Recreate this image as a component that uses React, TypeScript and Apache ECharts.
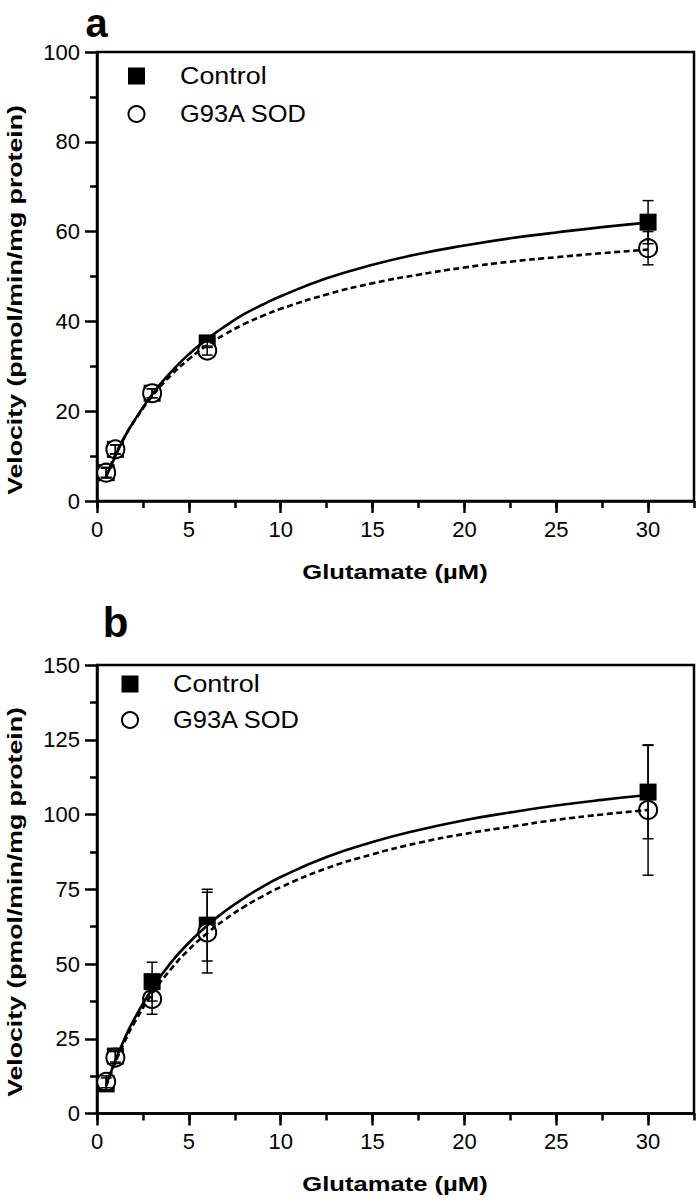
import React, { useEffect, useRef } from "react";
import * as echarts from "echarts";

// Glutamate concentrations (µM) of the measured points
const concentrations = [0.5, 1, 3, 6, 30];

// Panel a
const controlA = [6.3, 11.5, 24.0, 35.2, 62.1];
const controlErrA = [1.0, 1.0, 1.0, 1.0, 4.8];
const sodA = [6.3, 11.5, 24.0, 33.5, 56.3];
const sodErrA = [1.2, 1.0, 1.0, 1.0, 3.7];

// Panel b
const controlB = [9.9, 19.2, 44.1, 63.0, 107.5];
const controlErrB = [2.0, 2.0, 6.5, 12.0, 15.6];
const sodB = [10.6, 18.7, 38.3, 60.5, 101.5];
const sodErrB = [2.0, 2.0, 5.1, 13.5, 21.8];

// Fitted curves
const fitX = [0.5, 1, 1.5, 2, 3, 4, 5, 6, 7, 8, 9, 10, 12.5, 15, 17.5, 20, 22.5, 25, 27.5, 30];
const controlFitA = [5.4, 10.0, 14.2, 17.7, 23.7, 28.6, 32.7, 36.1, 39.0, 41.6, 43.7, 45.6, 49.6, 52.6, 55.0, 56.9, 58.5, 59.8, 61.0, 62.0];
const sodFitA = [5.6, 10.3, 14.3, 17.6, 23.3, 27.9, 31.6, 34.7, 37.2, 39.4, 41.2, 42.8, 46.0, 48.5, 50.4, 52.0, 53.3, 54.3, 55.2, 56.0];
const controlFitB = [9.5, 17.8, 25.0, 31.3, 41.7, 50.3, 57.1, 62.9, 67.8, 72.0, 75.8, 79.1, 85.8, 90.8, 94.8, 98.1, 100.7, 103.0, 104.9, 106.5];
const sodFitB = [9.2, 17.1, 24.0, 30.0, 40.0, 48.1, 54.8, 60.3, 65.0, 69.1, 72.6, 75.7, 82.0, 86.7, 90.5, 93.5, 95.9, 98.2, 100.0, 101.5];

// Axis ticks
const xMajorTicks = [0, 5, 10, 15, 20, 25, 30];
const yTicksA = [0, 20, 40, 60, 80, 100];
const yTicksB = [0, 25, 50, 75, 100, 125, 150];

const legendNames = ["Control", "G93A SOD"];
const xTitle = "Glutamate (\u00b5M)";
const yTitle = "Velocity (pmol/min/mg protein)";

const FONT = '"Liberation Sans", Arial, Helvetica, sans-serif';

const zip = (xs: number[], ys: number[]) => xs.map((x, i) => [x, ys[i]]);
const errData = (xs: number[], ys: number[], es: number[]) =>
  xs.map((x, i) => [x, ys[i] - es[i], ys[i] + es[i]]);

const errorRender = (params: any, api: any) => {
  const x = api.value(0);
  const lo = api.coord([x, api.value(1)]);
  const hi = api.coord([x, api.value(2)]);
  const hw = 5.5;
  const style = { stroke: "#000", lineWidth: 1.5 };
  return {
    type: "group",
    children: [
      { type: "line", shape: { x1: lo[0], y1: lo[1], x2: hi[0], y2: hi[1] }, style },
      { type: "line", shape: { x1: lo[0] - hw, y1: lo[1], x2: lo[0] + hw, y2: lo[1] }, style },
      { type: "line", shape: { x1: hi[0] - hw, y1: hi[1], x2: hi[0] + hw, y2: hi[1] }, style },
    ],
  };
};

export default function App() {
  const ref = useRef<HTMLDivElement>(null);

  useEffect(() => {
    document.body.style.margin = "0";
    if (!ref.current) return;
    const chart = echarts.init(ref.current, null, { renderer: "svg" });

    const axisLine = { show: true, lineStyle: { color: "#000", width: 2.5 } };
    const labelStyle = { color: "#000", fontSize: 22, fontFamily: FONT, margin: 17 };

    const grids = [
      { left: 97, top: 52, width: 597, height: 449 },
      { left: 97, top: 665, width: 597, height: 448.5 },
    ].map((g) => ({ ...g, show: true, borderColor: "#000", borderWidth: 2.5, backgroundColor: "transparent" }));

    const xAxes: any[] = [];
    [0, 1].forEach((gi) => {
      xAxes.push({
        type: "value",
        gridIndex: gi,
        position: "bottom",
        min: 0,
        max: 32.5,
        interval: 5,
        axisLine,
        axisTick: { show: true, length: 12, inside: false, customValues: xMajorTicks, lineStyle: { color: "#000", width: 2.5 } },
        axisLabel: { ...labelStyle, customValues: xMajorTicks },
        splitLine: { show: false },
      });
      xAxes.push({
        type: "value",
        gridIndex: gi,
        position: "bottom",
        min: 0,
        max: 32.5,
        interval: 2.5,
        axisLine: { show: false },
        axisTick: { show: true, length: 7, inside: false, lineStyle: { color: "#000", width: 2.5 } },
        axisLabel: { show: false },
        splitLine: { show: false },
      });
    });

    const yAxes = [
      { ticks: yTicksA, grid: 0 },
      { ticks: yTicksB, grid: 1 },
    ].map(({ ticks, grid }) => ({
      type: "value",
      gridIndex: grid,
      min: ticks[0],
      max: ticks[ticks.length - 1],
      interval: ticks[1] - ticks[0],
      axisLine,
      axisTick: { show: true, length: 12, inside: false, lineStyle: { color: "#000", width: 2.5 } },
      minorTick: { show: true, splitNumber: 2, length: 7, lineStyle: { color: "#000", width: 2.5 } },
      axisLabel: labelStyle,
      splitLine: { show: false },
      minorSplitLine: { show: false },
    }));

    const panelSeries = (
      gi: number,
      ctrl: number[],
      ctrlErr: number[],
      sod: number[],
      sodErr: number[],
      ctrlFit: number[],
      sodFit: number[]
    ) => {
      const xi = gi * 2;
      return [
        {
          type: "scatter",
          name: legendNames[0],
          xAxisIndex: xi,
          yAxisIndex: gi,
          data: zip(concentrations, ctrl),
          symbol: "rect",
          symbolSize: 17,
          itemStyle: { color: "#000", opacity: 1 },
          z: 2,
        },
        {
          type: "scatter",
          name: legendNames[1],
          xAxisIndex: xi,
          yAxisIndex: gi,
          data: zip(concentrations, sod),
          symbol: "circle",
          symbolSize: 18,
          itemStyle: { color: "#fff", borderColor: "#000", borderWidth: 2, opacity: 1 },
          z: 3,
        },
        {
          type: "line",
          xAxisIndex: xi,
          yAxisIndex: gi,
          data: zip(fitX, ctrlFit),
          smooth: true,
          showSymbol: false,
          lineStyle: { color: "#000", width: 2.6 },
          z: 4,
        },
        {
          type: "line",
          xAxisIndex: xi,
          yAxisIndex: gi,
          data: zip(fitX, sodFit),
          smooth: true,
          showSymbol: false,
          lineStyle: { color: "#000", width: 2.6, type: [6, 3.5] },
          z: 4,
        },
        {
          type: "custom",
          xAxisIndex: xi,
          yAxisIndex: gi,
          data: [...errData(concentrations, ctrl, ctrlErr), ...errData(concentrations, sod, sodErr)],
          encode: { x: 0, y: [1, 2] },
          renderItem: errorRender,
          z: 5,
        },
      ];
    };

    const textEl = (text: string, x: number, y: number, size: number, bold: boolean, opts: any = {}) => {
      const { lineHeight, align, ...rest } = opts;
      return {
        type: "text",
        x,
        y,
        ...rest,
        style: {
          text,
          fill: "#000",
          font: `${bold ? "bold " : ""}${size}px ${FONT}`,
          align: align || "left",
          verticalAlign: "middle",
          ...(lineHeight ? { lineHeight } : {}),
        },
        z: 10,
      };
    };

    const legend = (sqX: number, y1: number, y2: number, textX: number) => [
      { type: "rect", shape: { x: sqX - 8.5, y: y1 - 8.5, width: 17, height: 17 }, style: { fill: "#000" }, z: 10 },
      { type: "circle", shape: { cx: sqX, cy: y2, r: 8 }, style: { fill: "#fff", stroke: "#000", lineWidth: 2 }, z: 10 },
      textEl(legendNames[0], textX, y1, 24, false, { scaleX: 1.12 }),
      textEl(legendNames[1], textX, y2, 24, false, { scaleX: 1.06 }),
    ];

    const graphic = [
      textEl("a", 96.5, 23, 40, true, { align: "center" }),
      textEl("b", 115.5, 622, 42, true, { align: "center" }),
      ...legend(136.5, 76, 114, 180),
      ...legend(130, 684, 720, 173),
      textEl(xTitle, 395, 572, 21, true, { align: "center", scaleX: 1.22 }),
      textEl(xTitle, 395, 1184, 21, true, { align: "center", scaleX: 1.22 }),
      textEl(yTitle, 15, 300, 21, true, { align: "center", rotation: Math.PI / 2, scaleX: 1.27 }),
      textEl(yTitle, 15, 902, 21, true, { align: "center", rotation: Math.PI / 2, scaleX: 1.27 }),
    ];

    chart.setOption({
      animation: false,
      backgroundColor: "#fff",
      grid: grids,
      xAxis: xAxes,
      yAxis: yAxes,
      series: [
        ...panelSeries(0, controlA, controlErrA, sodA, sodErrA, controlFitA, sodFitA),
        ...panelSeries(1, controlB, controlErrB, sodB, sodErrB, controlFitB, sodFitB),
      ],
      graphic,
    });

    return () => chart.dispose();
  }, []);

  return <div ref={ref} style={{ width: 696, height: 1200, display: "block" }} />;
}
